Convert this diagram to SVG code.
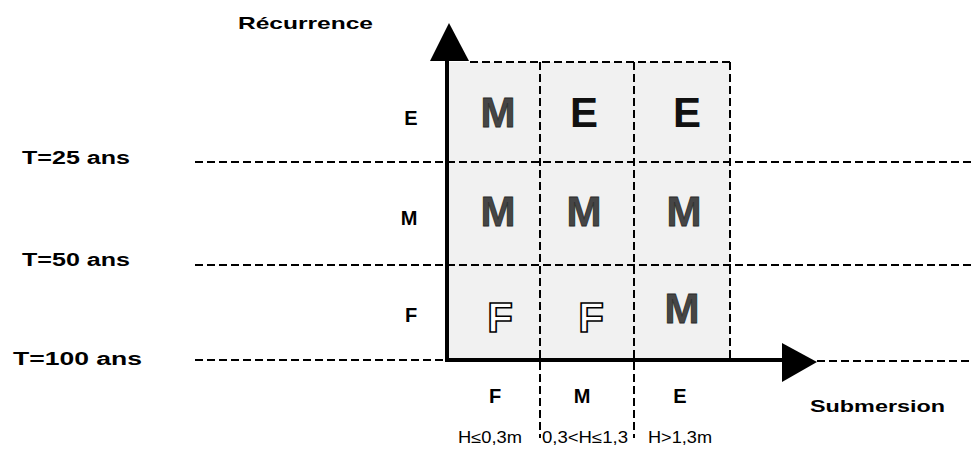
<svg xmlns="http://www.w3.org/2000/svg" width="972" height="450" viewBox="0 0 972 450">
<style>
.lbl{font-family:"Liberation Sans",Arial,sans-serif;font-weight:bold;fill:#000}
.big{font-family:"Liberation Sans",Arial,sans-serif;font-weight:bold;font-size:42px;text-anchor:middle}
.m{fill:#464646;stroke:#2a2a2a;stroke-width:0.8}
.e{fill:#111}
.f{fill:#fff;stroke:#000;stroke-width:1.6}
.dash{stroke:#000;stroke-width:2;stroke-dasharray:8 4;fill:none}
.small{font-family:"Liberation Sans",Arial,sans-serif;font-size:16px;fill:#000}
</style>
<rect width="972" height="450" fill="#fff"/>
<g id="grid">
<rect x="447" y="62" width="283" height="297" fill="#f1f1f1"/>
<line class="dash" x1="470" y1="62" x2="730" y2="62"/>
<line class="dash" x1="730" y1="62" x2="730" y2="359"/>
<line class="dash" x1="540" y1="62" x2="540" y2="438"/>
<line class="dash" x1="634" y1="62" x2="634" y2="438"/>
<line class="dash" x1="195" y1="162" x2="972" y2="162"/>
<line class="dash" x1="195" y1="265" x2="972" y2="265"/>
<line class="dash" x1="195" y1="360" x2="447" y2="360"/>
<line class="dash" x1="817" y1="361" x2="972" y2="361"/>
</g>
<g id="connectors">
<line x1="447" y1="58" x2="447" y2="360" stroke="#000" stroke-width="4"/>
<polygon points="449,23 430,61 469,61" fill="#000"/>
<line x1="445" y1="360" x2="785" y2="360" stroke="#000" stroke-width="4"/>
<polygon points="817,362 782,343 782,382" fill="#000"/>
</g>
<g id="cells">
<text class="big m" x="498" y="127">M</text>
<text class="big e" x="584" y="127">E</text>
<text class="big e" x="687" y="127">E</text>
<text class="big m" x="498" y="226">M</text>
<text class="big m" x="584" y="226">M</text>
<text class="big m" x="684" y="226">M</text>
<text class="big f" x="500" y="332">F</text>
<text class="big f" x="591" y="332">F</text>
<text class="big m" x="682" y="323">M</text>
</g>
<g id="y-axis-labels">
<text class="lbl" x="238" y="29" font-size="17" textLength="135" lengthAdjust="spacingAndGlyphs">Récurrence</text>
<text class="lbl" x="411" y="125" font-size="20" text-anchor="middle">E</text>
<text class="lbl" x="409" y="225" font-size="20" text-anchor="middle">M</text>
<text class="lbl" x="411" y="322" font-size="20" text-anchor="middle">F</text>
<text class="lbl" x="22" y="164" font-size="18" textLength="108" lengthAdjust="spacingAndGlyphs">T=25 ans</text>
<text class="lbl" x="22" y="266" font-size="18" textLength="108" lengthAdjust="spacingAndGlyphs">T=50 ans</text>
<text class="lbl" x="13" y="365" font-size="18" textLength="129" lengthAdjust="spacingAndGlyphs">T=100 ans</text>
</g>
<g id="x-axis-labels">
<text class="lbl" x="495" y="403" font-size="20" text-anchor="middle">F</text>
<text class="lbl" x="582" y="403" font-size="20" text-anchor="middle">M</text>
<text class="lbl" x="680" y="403" font-size="20" text-anchor="middle">E</text>
<text class="small" x="458" y="443" textLength="64" lengthAdjust="spacingAndGlyphs">H≤0,3m</text>
<text class="small" x="542" y="443" textLength="86" lengthAdjust="spacingAndGlyphs">0,3&lt;H≤1,3</text>
<text class="small" x="648" y="443" textLength="64" lengthAdjust="spacingAndGlyphs">H&gt;1,3m</text>
<text class="lbl" x="810" y="412" font-size="17" textLength="135" lengthAdjust="spacingAndGlyphs">Submersion</text>
</g>
</svg>
